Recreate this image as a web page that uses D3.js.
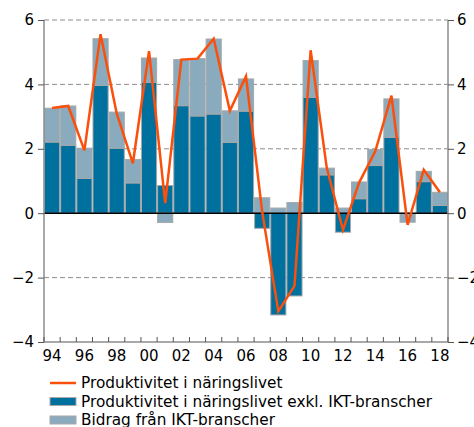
<!DOCTYPE html>
<html>
<head>
<meta charset="utf-8">
<script src="https://cdn.jsdelivr.net/npm/d3@7"></script>
<style>
  body { margin: 0; background: #fff; }
  svg text { font-family: "DejaVu Sans", Verdana, sans-serif; fill: #000; }
</style>
</head>
<body>
<div id="chart"></div>
<script>
var years = [1994, 1995, 1996, 1997, 1998, 1999, 2000, 2001, 2002, 2003, 2004, 2005, 2006,
             2007, 2008, 2009, 2010, 2011, 2012, 2013, 2014, 2015, 2016, 2017, 2018];
// Produktivitet i näringslivet exkl. IKT-branscher
var exIkt = [2.21, 2.11, 1.08, 3.97, 2.02, 0.94, 4.06, 0.86, 3.34, 3.02, 3.08, 2.20, 3.17,
             -0.47, -3.16, -2.57, 3.60, 1.19, -0.59, 0.45, 1.48, 2.36, 0.00, 0.98, 0.24];
// Bidrag från IKT-branscher
var ikt = [1.05, 1.22, 0.94, 1.45, 1.12, 0.73, 0.76, -0.29, 1.43, 1.78, 2.33, 0.98, 1.00,
           0.48, 0.16, 0.33, 1.14, 0.21, 0.16, 0.52, 0.50, 1.19, -0.28, 0.32, 0.41];
// Produktivitet i näringslivet
var total = [3.27, 3.33, 1.95, 5.56, 3.10, 1.55, 5.03, 0.31, 4.77, 4.80, 5.42, 3.18, 4.25,
             0.05, -3.05, -2.26, 5.06, 1.40, -0.52, 0.95, 1.92, 3.65, -0.36, 1.35, 0.65];
var yTicks = [-4, -2, 0, 2, 4, 6];
var gridLines = [-2, 2, 4, 6];

var W = 474, H = 427;
var mLeft = 44, mRight = 448, mTop = 20, mBottom = 342;
var darkBlue = "#00709e", lightBlue = "#89abbd", orange = "#fb4f0c", border = "#a8a8a8";

var svg = d3.select("#chart").append("svg")
  .attr("width", W)
  .attr("height", H);

var x = d3.scaleBand().domain(years).range([mLeft, mRight]).padding(0);
var y = d3.scaleLinear().domain([-4, 6]).range([mBottom, mTop]);

// dashed grid
svg.append("g").selectAll("line")
  .data(gridLines)
  .enter().append("line")
  .attr("x1", mLeft).attr("x2", mRight)
  .attr("y1", d => y(d)).attr("y2", d => y(d))
  .attr("stroke", "#8c8c8c")
  .attr("stroke-width", 1)
  .attr("stroke-dasharray", "5,3");

// bars: positive and negative parts stacked separately
var rows = years.map(function(yr, i) {
  var pos = 0, neg = 0, segs = [];
  [[exIkt[i], darkBlue], [ikt[i], lightBlue]].forEach(function(p) {
    var v = p[0];
    if (v >= 0) { segs.push({ y0: pos, y1: pos + v, c: p[1] }); pos += v; }
    else { segs.push({ y0: neg + v, y1: neg, c: p[1] }); neg += v; }
  });
  return { year: yr, segs: segs };
});

svg.append("g").selectAll("g")
  .data(rows)
  .enter().append("g")
  .selectAll("rect")
  .data(d => d.segs.map(s => Object.assign({ year: d.year }, s)))
  .enter().append("rect")
  .attr("x", d => x(d.year) + 0.5)
  .attr("width", x.bandwidth() - 1)
  .attr("y", d => y(d.y1))
  .attr("height", d => Math.max(0, y(d.y0) - y(d.y1)))
  .attr("fill", d => d.c)
  .attr("stroke", border)
  .attr("stroke-width", 1);

// zero line
svg.append("line")
  .attr("x1", mLeft).attr("x2", mRight)
  .attr("y1", y(0)).attr("y2", y(0))
  .attr("stroke", "#000")
  .attr("stroke-width", 1.5);

// line
var line = d3.line()
  .x((d, i) => x(years[i]) + x.bandwidth() / 2)
  .y(d => y(d));

svg.append("path")
  .datum(total)
  .attr("d", line)
  .attr("fill", "none")
  .attr("stroke", orange)
  .attr("stroke-width", 2.5)
  .attr("stroke-linejoin", "miter");

// axes
var yLeft = d3.axisLeft(y).tickValues(yTicks).tickSize(6).tickPadding(4);
var yRight = d3.axisRight(y).tickValues(yTicks).tickSize(6).tickPadding(3);

function styleAxis(g) {
  g.select(".domain").attr("stroke", "#8c8c8c").attr("stroke-width", 1.5);
  g.selectAll(".tick line").attr("stroke", "#555");
  g.selectAll(".tick text").style("font-size", "15px");
}

svg.append("g")
  .attr("transform", "translate(" + mLeft + ",0)")
  .call(yLeft)
  .call(g => g.select(".domain").attr("d", "M0," + mTop + "V" + mBottom))
  .call(styleAxis);

svg.append("g")
  .attr("transform", "translate(" + mRight + ",0)")
  .call(yRight)
  .call(g => g.select(".domain").attr("d", "M0," + mTop + "V" + mBottom))
  .call(styleAxis);

// bottom axis: ticks at year boundaries, labels every other year at bar centre
var xAxis = d3.axisBottom(x)
  .tickSize(0)
  .tickPadding(8)
  .tickFormat(d => d % 2 === 0 ? String(d).slice(2) : "");

var xg = svg.append("g")
  .attr("transform", "translate(0," + mBottom + ")")
  .call(xAxis)
  .call(g => g.select(".domain").attr("d", "M" + mLeft + ",0H" + mRight))
  .call(styleAxis);

var lastYear = years[years.length - 1];
xg.selectAll(".bound")
  .data(years.concat([lastYear + 1]))
  .enter().append("line")
  .attr("class", "bound")
  .attr("x1", d => d <= lastYear ? x(d) : mRight)
  .attr("x2", d => d <= lastYear ? x(d) : mRight)
  .attr("y1", 0).attr("y2", -5)
  .attr("stroke", "#555");

// legend
var legendItems = [
  { label: "Produktivitet i näringslivet", type: "line", c: orange },
  { label: "Produktivitet i näringslivet exkl. IKT-branscher", type: "rect", c: darkBlue },
  { label: "Bidrag från IKT-branscher", type: "rect", c: lightBlue }
];

var lg = svg.append("g").attr("transform", "translate(50,383)");
var item = lg.selectAll("g")
  .data(legendItems)
  .enter().append("g")
  .attr("transform", (d, i) => "translate(0," + (i * 18.5) + ")");

item.filter(d => d.type === "line").append("line")
  .attr("x1", 0).attr("x2", 26)
  .attr("y1", 0).attr("y2", 0)
  .attr("stroke", d => d.c)
  .attr("stroke-width", 2.5);

item.filter(d => d.type === "rect").append("rect")
  .attr("x", 0).attr("y", -4)
  .attr("width", 26).attr("height", 8)
  .attr("fill", d => d.c)
  .attr("stroke", border)
  .attr("stroke-width", 1);

item.append("text")
  .attr("x", 31)
  .attr("y", 5)
  .style("font-size", "15.3px")
  .text(d => d.label);
</script>
</body>
</html>
